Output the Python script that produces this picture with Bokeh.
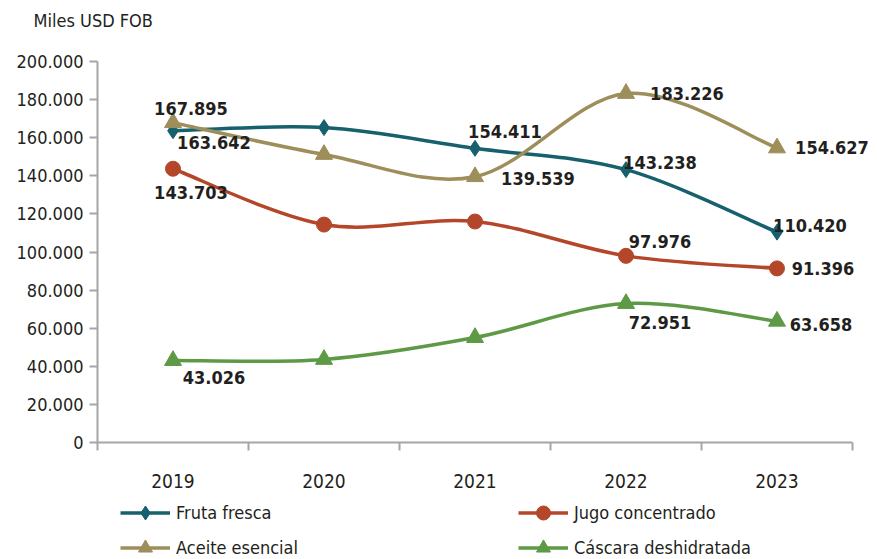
import numpy as np
from bokeh.plotting import figure
from bokeh.models import Range1d, FixedTicker, ColumnDataSource, LabelSet, Label, Legend, LegendItem
from bokeh.core.properties import value
from bokeh.embed import file_html
from bokeh.resources import INLINE

# ---- data ----
years = ["2019", "2020", "2021", "2022", "2023"]
fruta_fresca = [163642, 165300, 154411, 143238, 110420]
jugo_concentrado = [143703, 114400, 116000, 97976, 91396]
aceite_esencial = [167895, 151200, 139539, 183226, 154627]
cascara_deshidratada = [43026, 43600, 55100, 72951, 63658]
y_ticks = [0, 20000, 40000, 60000, 80000, 100000, 120000, 140000, 160000, 180000, 200000]
y_max = 200000

# which points carry a value label (index into years)
fruta_labels = [0, 2, 3, 4]
jugo_labels = [0, 3, 4]
aceite_labels = [0, 2, 3, 4]
cascara_labels = [0, 3, 4]

# ---- style ----
FONT = "'DejaVu Sans Condensed', Roboto"
TXT = "#231F20"
AX = "#A6A6A6"
series = [
    ("Fruta fresca", fruta_fresca, "#17606D", "diamond", 16, fruta_labels,
     [(41, -12), (30, 17), (34, 7), (33, 7)]),
    ("Jugo concentrado", jugo_concentrado, "#B4472A", "circle", 15, jugo_labels,
     [(18, -24), (34, 14), (46, 0)]),
    ("Aceite esencial", aceite_esencial, "#9D8E5A", "triangle", 17, aceite_labels,
     [(18, 14), (63, -2), (61, 0), (55, 0)]),
    ("Cáscara deshidratada", cascara_deshidratada, "#5E9A46", "triangle", 17, cascara_labels,
     [(41, -17), (34, -19), (44, -3)]),
]

# ---- layout (pixels) ----
W, H = 875, 557
PLOT_LEFT, PLOT_TOP, PLOT_BOTTOM = 97, 61, 442
PX_PER_CAT = 151
py_per_unit = (PLOT_BOTTOM - PLOT_TOP) / y_max

xc = [i + 0.5 for i in range(len(years))]

p = figure(frame_width=W, frame_height=H, output_backend="svg", toolbar_location=None,
           x_range=Range1d(-PLOT_LEFT / PX_PER_CAT, (W - PLOT_LEFT) / PX_PER_CAT),
           y_range=Range1d(-(H - PLOT_BOTTOM) / py_per_unit, y_max + PLOT_TOP / py_per_unit),
           min_border=0)
p.outline_line_color = None
p.grid.visible = False
p.background_fill_color = "white"
p.border_fill_color = "white"

# axes
xa = p.xaxis[0]
xa.fixed_location = 0
xa.bounds = (0, len(years))
xa.ticker = FixedTicker(ticks=xc, minor_ticks=list(range(len(years) + 1)))
xa.major_label_overrides = {c: y for c, y in zip(xc, years)}
xa.major_tick_out = 0
xa.major_tick_in = 0
xa.minor_tick_out = 8
xa.minor_tick_in = 0
xa.minor_tick_line_color = AX
xa.minor_tick_line_width = 2
xa.axis_line_color = AX
xa.axis_line_width = 2
xa.major_label_standoff = 23
xa.major_label_text_font = FONT
xa.major_label_text_font_size = "19px"
xa.major_label_text_color = TXT

ya = p.yaxis[0]
ya.fixed_location = 0
ya.bounds = (0, y_max)
ya.ticker = FixedTicker(ticks=y_ticks, minor_ticks=[])
ya.major_label_overrides = {t: f"{t:,}".replace(",", ".") for t in y_ticks}
ya.major_tick_out = 8
ya.major_tick_in = 0
ya.major_tick_line_color = AX
ya.major_tick_line_width = 2
ya.axis_line_color = AX
ya.axis_line_width = 2
ya.major_label_standoff = 6
ya.major_label_text_font = FONT
ya.major_label_text_font_size = "18px"
ya.major_label_text_color = TXT

# title (units label)
p.add_layout(Label(x=33, y=H - 20, x_units="screen", y_units="screen", text="Miles USD FOB",
                   text_font=FONT, text_font_size="18px", text_color=TXT,
                   text_align="left", text_baseline="middle"))

legend_items = []
for name, vals, color, marker, size, lab_idx, offs in series:
    n = len(vals)
    # smooth (Catmull-Rom style) bezier segments through the data points
    x0, y0, x1, y1, cx0, cy0, cx1, cy1 = [], [], [], [], [], [], [], []
    for i in range(n - 1):
        pm = max(i - 1, 0)
        pp = min(i + 2, n - 1)
        x0.append(xc[i]); y0.append(vals[i])
        x1.append(xc[i + 1]); y1.append(vals[i + 1])
        cx0.append(xc[i] + (xc[i + 1] - xc[pm]) / 6)
        cy0.append(vals[i] + (vals[i + 1] - vals[pm]) / 6)
        cx1.append(xc[i + 1] - (xc[pp] - xc[i]) / 6)
        cy1.append(vals[i + 1] - (vals[pp] - vals[i]) / 6)
    bsrc = ColumnDataSource(dict(x0=x0, y0=y0, x1=x1, y1=y1, cx0=cx0, cy0=cy0, cx1=cx1, cy1=cy1))
    p.bezier(x0="x0", y0="y0", x1="x1", y1="y1", cx0="cx0", cy0="cy0", cx1="cx1", cy1="cy1",
             source=bsrc, line_color=color, line_width=3.5)
    sc = p.scatter(x=xc, y=vals, marker=marker, size=size, fill_color=color, line_color=color)
    lr = p.line(x=[np.nan], y=[np.nan], line_color=color, line_width=3.5)
    legend_items.append(LegendItem(label=name, renderers=[lr, sc]))

    lsrc = ColumnDataSource(dict(
        x=[xc[i] for i in lab_idx],
        y=[vals[i] for i in lab_idx],
        t=[f"{vals[i]:,}".replace(",", ".") for i in lab_idx],
        dx=[o[0] for o in offs],
        dy=[o[1] for o in offs],
    ))
    p.add_layout(LabelSet(x="x", y="y", text="t", x_offset="dx", y_offset="dy", source=lsrc,
                          text_font=value(FONT), text_font_size="18px", text_font_style="bold",
                          text_color=TXT, text_align="center", text_baseline="middle"))

rows = [[legend_items[0], legend_items[1]], [legend_items[2], legend_items[3]]]
row_loc = [(120, 27), (120, -8)]
for items, loc in zip(rows, row_loc):
    lg = Legend(items=items, orientation="horizontal",
                location=loc, margin=0, padding=0, border_line_color=None,
                background_fill_alpha=0, glyph_width=50, glyph_height=35,
                label_height=35, label_width=300, label_standoff=6, spacing=42,
                label_text_font=FONT, label_text_font_size="18px", label_text_color=TXT)
    p.add_layout(lg)

open("out.html", "w").write(file_html(p, INLINE))
